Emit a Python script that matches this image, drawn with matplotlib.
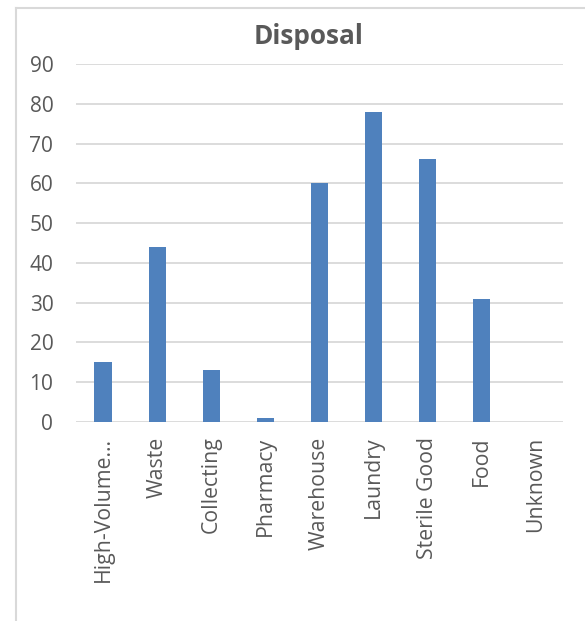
import matplotlib
matplotlib.use("Agg")
import matplotlib.pyplot as plt
from matplotlib.lines import Line2D

categories = ["High-Volume...", "Waste", "Collecting", "Pharmacy", "Warehouse",
              "Laundry", "Sterile Good", "Food", "Unknown"]
values = [15, 44, 13, 1, 60, 78, 66, 31, 0]
yticks = [0, 10, 20, 30, 40, 50, 60, 70, 80, 90]

W, H = 585, 621
FAM = ['Open Sans', 'DejaVu Sans']
plt.rcParams['font.family'] = FAM
fig = plt.figure(figsize=(W / 100, H / 100), dpi=100)
renderer = fig.canvas.get_renderer()


def fit_size(text, target_px, weight="normal"):
    t = fig.text(0, 0, text, fontsize=10, fontweight=weight)
    w = t.get_window_extent(renderer).width
    t.remove()
    return 10 * target_px / w


tick_fs = fit_size("90", 24)
cat_fs = fit_size("Waste", 61)
title_fs = fit_size("Disposal", 110, "bold")

ax = fig.add_axes([76 / W, 1 - 422 / H, (563 - 76) / W, (422 - 64) / H])
gray = "#595959"
ax.bar(range(len(categories)), values, width=0.32, color="#4F81BD", zorder=3)
ax.set_xlim(-0.5, len(categories) - 0.5)
ax.set_ylim(0, 90)
ax.set_yticks(yticks)
ax.set_yticklabels([str(t) for t in yticks], fontsize=tick_fs, color=gray)
ax.set_xticks(range(len(categories)))
ax.set_xticklabels(categories, rotation=90, fontsize=cat_fs, color=gray, va="top", ha="center")
ax.tick_params(axis="both", length=0)
ax.tick_params(axis="y", pad=16.3)
ax.tick_params(axis="x", pad=10.5)
ax.grid(axis="y", color="#D9D9D9", linewidth=1.3, zorder=0)
for s in ax.spines.values():
    s.set_visible(False)

fig.text(309 / W, 1 - 44 / H, "Disposal", ha="center", va="baseline",
         fontsize=title_fs, fontweight="bold", color=gray)

# chart border (left and top visible)
fig.add_artist(Line2D([15.5 / W, 15.5 / W], [0, 1 - 8 / H], color="#D9D9D9", lw=1.5))
fig.add_artist(Line2D([15.5 / W, 1], [1 - 8 / H, 1 - 8 / H], color="#D9D9D9", lw=1.5))

fig.savefig("out.png", dpi=100)
